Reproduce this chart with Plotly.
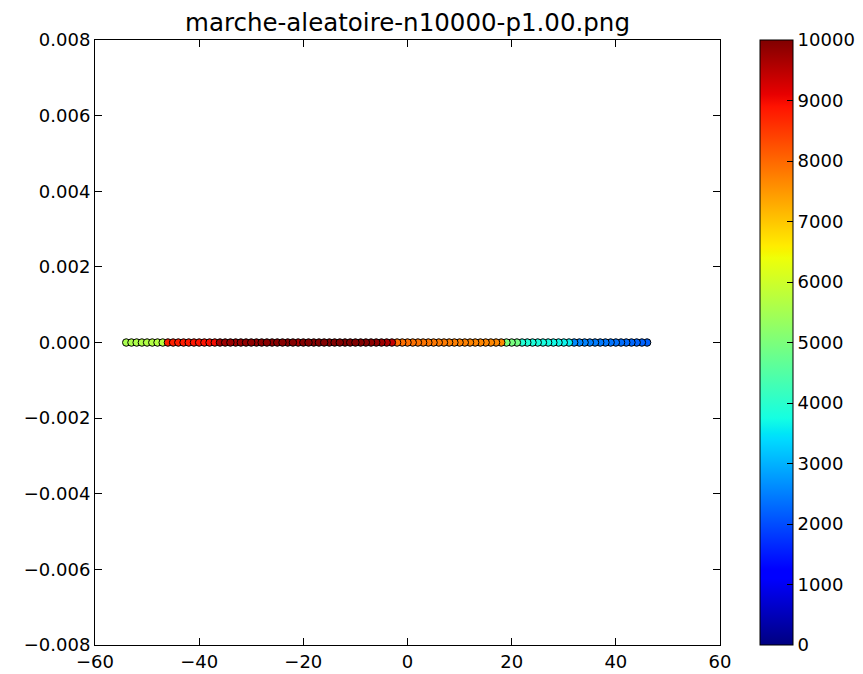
import plotly.graph_objects as go

# Positions visited by the walk (integers) and step index of the last visit at each position
positions = list(range(-54, 47))
last_visit_step = [
    # -54 .. -47 (green)
    5550, 5580, 5600, 5620, 5650, 5670, 5700, 5720,
    # -46 .. -37 (red)
    8750, 8770, 8800, 8820, 8850, 8870, 8900, 8920, 8950, 8980,
    # -36 .. -3 (dark red)
    9700, 9750, 9800, 9720, 9820, 9850, 9880, 9800, 9900, 9920,
    9860, 9930, 9950, 9900, 9960, 9600, 9970, 9980, 9950, 9985,
    9990, 9960, 9992, 9995, 9970, 9998, 10000, 9990, 9960, 9900,
    9850, 9750, 9600, 9400,
    # -2 .. 18 (orange)
    7950, 7930, 7910, 7900, 7880, 7860, 7850, 7830, 7810, 7800,
    7780, 7760, 7750, 7730, 7710, 7700, 7690, 7680, 7670, 7660, 7650,
    # 19 .. 21 (green)
    5000, 4950, 4900,
    # 22 .. 31 (cyan)
    3900, 3870, 3840, 3800, 3770, 3740, 3700, 3670, 3640, 3600,
    # 32 .. 46 (blue)
    2600, 2570, 2540, 2510, 2480, 2450, 2420, 2390, 2360, 2330,
    2300, 2270, 2240, 2220, 2200,
]
y_values = [0.0] * len(positions)

x_ticks = [-60, -40, -20, 0, 20, 40, 60]
y_ticks = [-0.008, -0.006, -0.004, -0.002, 0.0, 0.002, 0.004, 0.006, 0.008]
cbar_ticks = [0, 1000, 2000, 3000, 4000, 5000, 6000, 7000, 8000, 9000, 10000]

# matplotlib "jet" colormap stops
jet = [
    [0.0, "rgb(0,0,128)"], [0.11, "rgb(0,0,255)"], [0.125, "rgb(0,0,255)"],
    [0.34, "rgb(0,219,255)"], [0.35, "rgb(0,230,247)"], [0.375, "rgb(21,255,226)"],
    [0.64, "rgb(239,255,8)"], [0.65, "rgb(247,245,0)"], [0.66, "rgb(255,236,0)"],
    [0.89, "rgb(255,19,0)"], [0.91, "rgb(232,0,0)"], [1.0, "rgb(128,0,0)"],
]

# draw in visiting order: later visits on top
order = sorted(range(len(positions)), key=lambda i: last_visit_step[i])
xs = [positions[i] for i in order]
ys = [y_values[i] for i in order]
cs = [last_visit_step[i] for i in order]

fig = go.Figure(go.Scatter(
    x=xs, y=ys, mode="markers",
    marker=dict(
        size=7.5, color=cs, colorscale=jet, cmin=0, cmax=10000,
        line=dict(color="black", width=1),
        showscale=True,
        colorbar=dict(
            x=1.064, xanchor="left", xpad=0, y=0.5, yanchor="middle", len=1, lenmode="fraction",
            thickness=33, thicknessmode="pixels", ypad=0,
            outlinecolor="black", outlinewidth=1,
            tickvals=cbar_ticks, ticktext=[str(v) for v in cbar_ticks],
            ticks="inside", ticklen=6, tickcolor="black",
            tickfont=dict(family="DejaVu Sans", size=18, color="black"),
        ),
    ),
    hoverinfo="skip",
))

axis_common = dict(
    showgrid=False, zeroline=False, showline=True, linecolor="black", linewidth=1,
    mirror="ticks", ticks="inside", ticklen=7, tickcolor="black",
    tickfont=dict(family="DejaVu Sans", size=18, color="black"),
)

# page body has an 8px default margin: compensate so the plot sits where the reference has it
fig.update_layout(
    width=855, height=666,
    margin=dict(l=87, r=143, t=32, b=29, autoexpand=False),
    plot_bgcolor="white", paper_bgcolor="white",
    title=dict(text="marche-aleatoire-n10000-p1.00.png", x=0.5, xref="paper", xanchor="center",
               y=0.979, yanchor="middle",
               font=dict(family="DejaVu Sans", size=24.5, color="black")),
    xaxis=dict(range=[-60, 60], tickvals=x_ticks, **axis_common),
    yaxis=dict(range=[-0.008, 0.008], tickvals=y_ticks, tickformat=".3f", **axis_common),
    showlegend=False,
)

fig.write_html("out.html")
